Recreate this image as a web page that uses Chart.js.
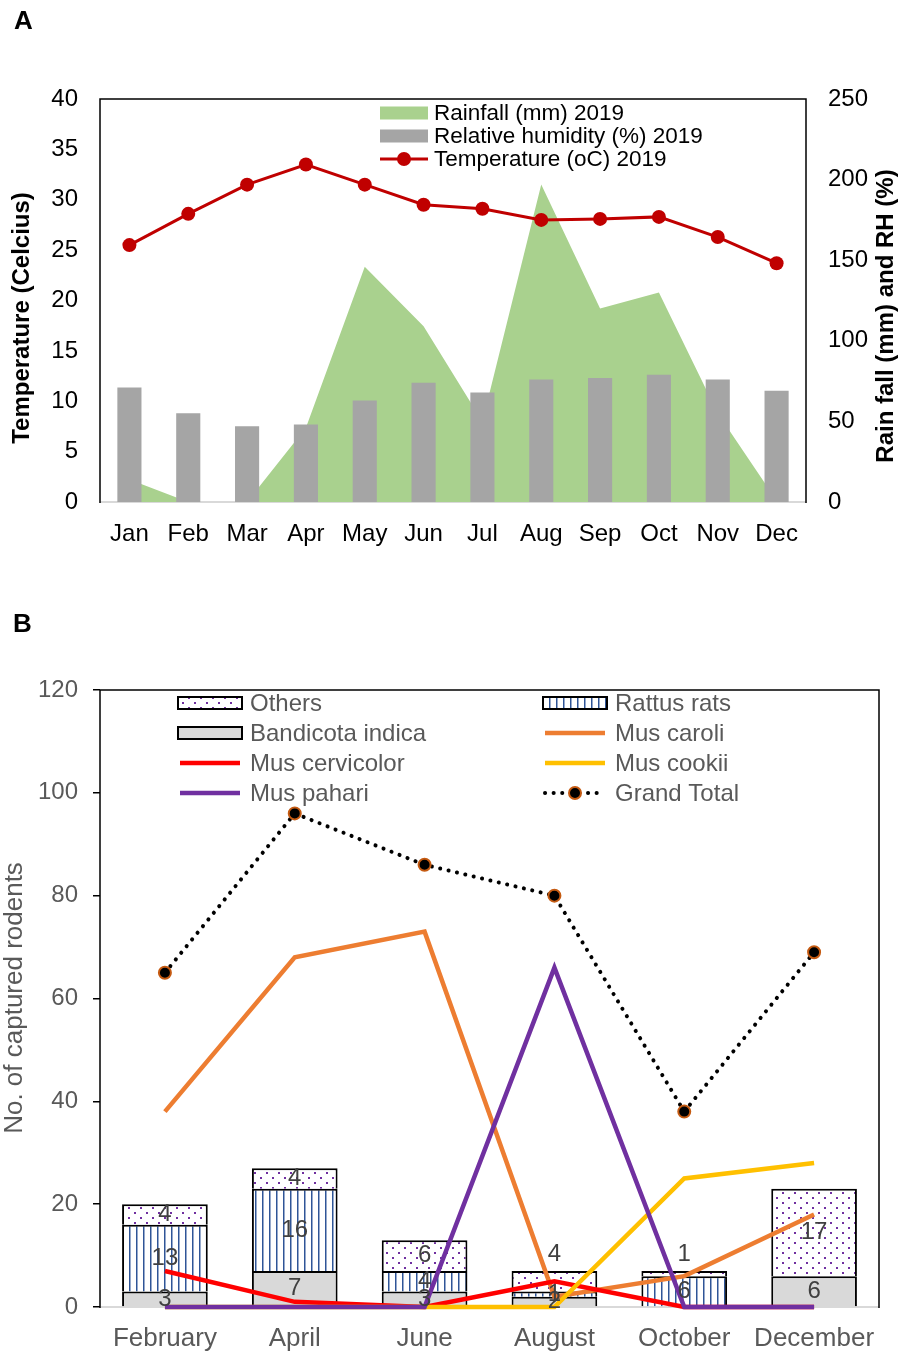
<!DOCTYPE html>
<html>
<head>
<meta charset="utf-8">
<title>Climate 2019 and rodent captures</title>
<script src="https://cdn.jsdelivr.net/npm/chart.js@4.4.1/dist/chart.umd.min.js"></script>
<style>
  html, body { margin: 0; padding: 0; background: #fff; }
  body { width: 908px; height: 1354px; position: relative; overflow: hidden; font-family: "Liberation Sans", Arial, sans-serif; }
  .box { position: absolute; left: 0; width: 908px; }
  #boxA { top: 0; height: 580px; }
  #boxB { top: 600px; height: 754px; }
  .tag { position: absolute; font-size: 26px; font-weight: bold; line-height: 1; color: #000; }
</style>
</head>
<body>
<div class="box" id="boxA"><canvas id="chartA"></canvas></div>
<div class="box" id="boxB"><canvas id="chartB"></canvas></div>
<div class="tag" style="left:14px;top:7px">A</div>
<div class="tag" style="left:13px;top:610px">B</div>
<script>
Chart.defaults.font.family = '"Liberation Sans", Arial, sans-serif';

// panel A: weather 2019
const months = ['Jan', 'Feb', 'Mar', 'Apr', 'May', 'Jun', 'Jul', 'Aug', 'Sep', 'Oct', 'Nov', 'Dec'];
const rainfall = [14, 0, 0, 46, 146, 109, 50, 197, 120, 130, 55, 1];
const humidity = [71, 55, 47, 48, 63, 74, 68, 76, 77, 79, 76, 69];
const temperature = [25.5, 28.6, 31.5, 33.5, 31.5, 29.5, 29.1, 28.0, 28.1, 28.3, 26.3, 23.7];

// panel B: captured rodents
const trapMonths = ['February', 'April', 'June', 'August', 'October', 'December'];
const bandicota = [3, 7, 3, 2, 0, 6];
const rattus = [13, 16, 4, 1, 6, 0];
const others = [4, 4, 6, 4, 1, 17];
const musCaroli = [38, 68, 73, 2, 6, 18];
const musCervicolor = [7, 1, 0, 5, 0, 0];
const musCookii = [0, 0, 0, 0, 25, 28];
const musPahari = [0, 0, 0, 66, 0, 0];
const grandTotal = [65, 96, 86, 80, 38, 69];

function font(size, bold) {
    return (bold ? 'bold ' : '') + size + 'px "Liberation Sans", Arial, sans-serif';
}

function upTitle(ctx, text, x, y, f, color) {
    ctx.save();
    ctx.translate(x, y);
    ctx.rotate(-Math.PI / 2);
    ctx.font = f;
    ctx.fillStyle = color;
    ctx.textAlign = 'center';
    ctx.textBaseline = 'middle';
    ctx.fillText(text, 0, 0);
    ctx.restore();
}

// light axis line under the marks, black box over them
function baseLine(chart) {
    const ctx = chart.ctx, a = chart.chartArea;
    ctx.save();
    ctx.strokeStyle = '#D9D9D9';
    ctx.lineWidth = 2;
    ctx.beginPath(); ctx.moveTo(a.left, a.bottom); ctx.lineTo(a.right, a.bottom); ctx.stroke();
    ctx.restore();
}
function box(chart) {
    const ctx = chart.ctx, a = chart.chartArea;
    ctx.save();
    ctx.strokeStyle = '#000';
    ctx.lineWidth = 1.5;
    ctx.beginPath();
    ctx.moveTo(a.left, a.bottom + 1); ctx.lineTo(a.left, a.top);
    ctx.lineTo(a.right, a.top); ctx.lineTo(a.right, a.bottom + 1);
    ctx.stroke();
    ctx.restore();
}

// ---------- chart A ----------
const extrasA = {
    id: 'extrasA',
    beforeDatasetsDraw(chart) { baseLine(chart); },
    afterDraw(chart) {
        const ctx = chart.ctx;
        box(chart);
        upTitle(ctx, 'Temperature (Celcius)', 22, 318, font(24, true), '#000');
        upTitle(ctx, 'Rain fall (mm) and RH (%)', 886, 316, font(24, true), '#000');

        // legend: rainfall, humidity, temperature
        const ds = chart.data.datasets;
        const rows = [[ds[2], 113], [ds[1], 136], [ds[0], 159]];
        ctx.save();
        ctx.font = font(22.5);
        ctx.textBaseline = 'middle';
        rows.forEach(([d, y]) => {
            if (d.type === 'line' && !d.fill) {
                ctx.strokeStyle = d.borderColor;
                ctx.lineWidth = d.borderWidth;
                ctx.beginPath(); ctx.moveTo(380, y); ctx.lineTo(428, y); ctx.stroke();
                ctx.fillStyle = d.pointBackgroundColor;
                ctx.beginPath(); ctx.arc(404, y, d.pointRadius, 0, Math.PI * 2); ctx.fill();
            } else {
                ctx.fillStyle = d.backgroundColor;
                ctx.fillRect(380, y - 6.5, 48, 13);
            }
            ctx.fillStyle = '#000';
            ctx.fillText(d.label, 434, y + 1);
        });
        ctx.restore();
    }
};

new Chart(document.getElementById('chartA'), {
    type: 'bar',
    data: {
        labels: months,
        datasets: [
            { type: 'line', label: 'Temperature (oC) 2019', data: temperature, yAxisID: 'y',
              borderColor: '#C00000', borderWidth: 3, pointRadius: 7, pointBackgroundColor: '#C00000',
              pointBorderColor: '#C00000', pointBorderWidth: 0, tension: 0, order: 0, clip: false },
            { type: 'bar', label: 'Relative humidity (%) 2019', data: humidity, yAxisID: 'y2',
              backgroundColor: '#A5A5A5', barPercentage: 0.41, categoryPercentage: 1, order: 1 },
            { type: 'line', label: 'Rainfall (mm) 2019', data: rainfall, yAxisID: 'y2', fill: 'origin',
              backgroundColor: '#A9D18E', borderColor: 'rgba(0,0,0,0)', borderWidth: 0, pointRadius: 0,
              tension: 0, order: 2 }
        ]
    },
    options: {
        responsive: true, maintainAspectRatio: false, animation: false, devicePixelRatio: 1,
        layout: { padding: { top: 99, left: 0, right: 0, bottom: 0 } },
        plugins: { legend: { display: false }, tooltip: { enabled: false } },
        scales: {
            x: {
                offset: true,
                grid: { display: false, drawTicks: false }, border: { display: false },
                ticks: { font: { size: 24 }, color: '#000', padding: 18, autoSkip: false, maxRotation: 0 },
                afterFit(s) { s.height = 78; }
            },
            y: {
                position: 'left', min: 0, max: 40,
                grid: { display: false, drawTicks: false }, border: { display: false },
                ticks: { stepSize: 5, font: { size: 24 }, color: '#000', padding: 22 },
                afterFit(s) { s.width = 100; }
            },
            y2: {
                position: 'right', min: 0, max: 250,
                grid: { display: false, drawTicks: false }, border: { display: false },
                ticks: { stepSize: 50, font: { size: 24 }, color: '#000', padding: 22 },
                afterFit(s) { s.width = 102; }
            }
        }
    },
    plugins: [extrasA]
});

// ---------- chart B ----------
const ctxB = document.getElementById('chartB').getContext('2d');

function pattern(w, h, paint) {
    const c = document.createElement('canvas');
    c.width = w; c.height = h;
    const g = c.getContext('2d');
    g.fillStyle = '#fff';
    g.fillRect(0, 0, w, h);
    paint(g);
    return ctxB.createPattern(c, 'repeat');
}
const dotted = pattern(12, 10, g => {
    g.fillStyle = '#7030A0';
    g.fillRect(2, 2, 2, 2);
    g.fillRect(8, 7, 2, 2);
});
const striped = pattern(7, 8, g => {
    g.fillStyle = '#2F5597';
    g.fillRect(3, 0, 1.5, 8);
});

const barStyle = { type: 'bar', stack: 'catch', order: 10, borderColor: '#000',
    borderWidth: { top: 2, left: 2, right: 2, bottom: 0 }, borderSkipped: false,
    barPercentage: 0.66, categoryPercentage: 1 };

function species(label, data, color, order) {
    return { type: 'line', label, data, stack: label, order, borderColor: color, backgroundColor: color,
             borderWidth: 4.5, pointRadius: 0, tension: 0, clip: false };
}

const extrasB = {
    id: 'extrasB',
    beforeDatasetsDraw(chart) { baseLine(chart); },
    afterDatasetsDraw(chart) {
        // segment labels
        const ctx = chart.ctx;
        const bars = chart.data.datasets.map((d, i) => [d, i]).filter(([d]) => d.type === 'bar');
        ctx.save();
        ctx.font = font(24);
        ctx.fillStyle = '#404040';
        ctx.textAlign = 'center';
        ctx.textBaseline = 'middle';
        bars.forEach(([d, i], k) => {
            const meta = chart.getDatasetMeta(i);
            meta.data.forEach((el, j) => {
                const v = d.data[j];
                if (!v) return;
                const total = bars.reduce((s, [b]) => s + b.data[j], 0);
                let y = (el.y + el.base) / 2;
                if (k === bars.length - 1 && total < 10) y = el.y - 17;
                ctx.fillText(String(v), el.x, y);
            });
        });
        ctx.restore();
    },
    afterDraw(chart) {
        const ctx = chart.ctx;
        box(chart);
        upTitle(ctx, 'No. of captured rodents', 15, 398, font(26), '#595959');

        // legend, two columns
        const order = ['Others', 'Rattus rats', 'Bandicota indica', 'Mus caroli',
                       'Mus cervicolor', 'Mus cookii', 'Mus pahari', 'Grand Total'];
        const cols = [178, 543];
        ctx.save();
        ctx.font = font(24);
        ctx.textBaseline = 'middle';
        order.forEach((name, n) => {
            const d = chart.data.datasets.find(s => s.label === name);
            const x = cols[n % 2], y = 103 + Math.floor(n / 2) * 30;
            if (d.type === 'bar') {
                ctx.fillStyle = d.backgroundColor;
                ctx.fillRect(x, y - 6, 64, 12);
                ctx.strokeStyle = '#000';
                ctx.lineWidth = 2;
                ctx.strokeRect(x, y - 6, 64, 12);
            } else {
                ctx.save();
                ctx.strokeStyle = d.borderColor;
                ctx.lineWidth = d.borderWidth;
                ctx.lineCap = d.borderCapStyle || 'butt';
                if (d.borderDash) ctx.setLineDash(d.borderDash);
                ctx.beginPath(); ctx.moveTo(x + 2, y); ctx.lineTo(x + 62, y); ctx.stroke();
                ctx.restore();
                if (d.pointRadius) {
                    ctx.fillStyle = d.pointBackgroundColor;
                    ctx.strokeStyle = d.pointBorderColor;
                    ctx.lineWidth = d.pointBorderWidth;
                    ctx.beginPath(); ctx.arc(x + 32, y, d.pointRadius, 0, Math.PI * 2); ctx.fill(); ctx.stroke();
                }
            }
            ctx.fillStyle = '#595959';
            ctx.fillText(name, x + 72, y + 1);
        });
        ctx.restore();
    }
};

new Chart(ctxB, {
    type: 'bar',
    data: {
        labels: trapMonths,
        datasets: [
            { ...barStyle, label: 'Bandicota indica', data: bandicota, backgroundColor: '#D9D9D9' },
            { ...barStyle, label: 'Rattus rats', data: rattus, backgroundColor: striped },
            { ...barStyle, label: 'Others', data: others, backgroundColor: dotted },
            species('Mus caroli', musCaroli, '#ED7D31', 4),
            species('Mus cervicolor', musCervicolor, '#FF0000', 3),
            species('Mus cookii', musCookii, '#FFC000', 2),
            species('Mus pahari', musPahari, '#7030A0', 1),
            { type: 'line', label: 'Grand Total', data: grandTotal, stack: 'total', order: 0,
              borderColor: '#000', borderWidth: 4, borderDash: [0.1, 8.5], borderCapStyle: 'round',
              pointRadius: 6, pointBackgroundColor: '#000', pointBorderColor: '#C55A11', pointBorderWidth: 2,
              tension: 0, clip: false }
        ]
    },
    options: {
        responsive: true, maintainAspectRatio: false, animation: false, devicePixelRatio: 1,
        layout: { padding: { top: 90, left: 0, right: 29, bottom: 0 } },
        plugins: { legend: { display: false }, tooltip: { enabled: false } },
        scales: {
            x: {
                stacked: true, offset: true,
                grid: { display: false, drawTicks: false }, border: { display: false },
                ticks: { font: { size: 26 }, color: '#595959', padding: 16, autoSkip: false, maxRotation: 0 },
                afterFit(s) { s.height = 47; }
            },
            y: {
                stacked: true, min: 0, max: 120,
                grid: { drawOnChartArea: false, drawTicks: true, tickLength: 7, color: '#000', lineWidth: 1.5 },
                border: { display: false },
                ticks: { stepSize: 20, font: { size: 24 }, color: '#595959', padding: 15 },
                afterFit(s) { s.width = 100; }
            }
        }
    },
    plugins: [extrasB]
});
</script>
</body>
</html>
